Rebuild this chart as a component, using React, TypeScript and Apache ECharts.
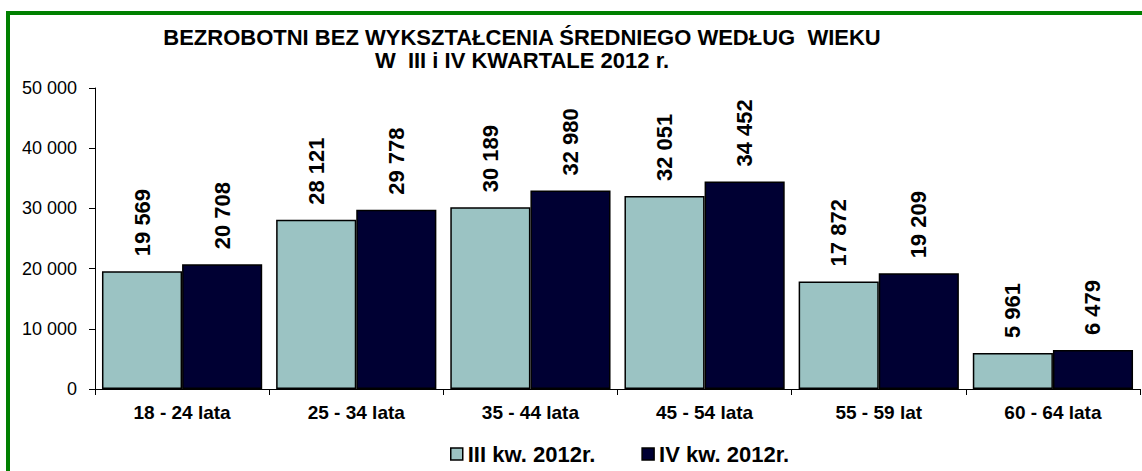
import React, { useEffect, useRef } from "react";
import * as echarts from "echarts";

const categories = ["18 - 24 lata", "25 - 34 lata", "35 - 44 lata", "45 - 54 lata", "55 - 59 lat", "60 - 64 lata"];
const seriesQ3 = [19569, 28121, 30189, 32051, 17872, 5961];
const seriesQ4 = [20708, 29778, 32980, 34452, 19209, 6479];
const seriesNames = ["III kw. 2012r.", "IV kw. 2012r."];
const titleLines = ["BEZROBOTNI BEZ WYKSZTAŁCENIA ŚREDNIEGO WEDŁUG  WIEKU", "W  III i IV KWARTALE 2012 r."];

const fmt = (v: number) => String(v).replace(/\B(?=(\d{3})+(?!\d))/g, " ");

export default function App() {
  const ref = useRef<HTMLDivElement>(null);
  useEffect(() => {
    if (!ref.current) return;
    const chart = echarts.init(ref.current, null, { renderer: "svg" });
    const font = "Arial, 'Liberation Sans', sans-serif";
    const label = {
      show: true,
      position: "top",
      rotate: 90,
      align: "left",
      verticalAlign: "middle",
      distance: 15,
      fontSize: 22,
      fontWeight: "bold",
      fontFamily: font,
      color: "#000",
      formatter: (p: any) => fmt(p.value),
    };
    const titleStyle = {
      fontSize: 22,
      fontWeight: "bold",
      fontFamily: font,
      fill: "#000",
      align: "center",
      verticalAlign: "middle",
    };
    chart.setOption({
      animation: false,
      backgroundColor: "#fff",
      graphic: [
        {
          type: "rect",
          z: -10,
          shape: { x: 8, y: 13, width: 1300, height: 600 },
          style: { fill: "none", stroke: "#008000", lineWidth: 4 },
          silent: true,
        },
        { type: "text", x: 522, y: 37, style: { ...titleStyle, text: titleLines[0] } },
        { type: "text", x: 522, y: 60, style: { ...titleStyle, text: titleLines[1] } },
      ],
      legend: {
        data: seriesNames,
        left: 445,
        top: 438,
        itemWidth: 12,
        itemHeight: 12,
        itemGap: 46,
        icon: "rect",
        itemStyle: { borderColor: "#000", borderWidth: 1.5 },
        textStyle: { fontSize: 22, fontWeight: "bold", fontFamily: font, color: "#000" },
      },
      grid: { left: 95, right: 2, top: 88, bottom: 82, containLabel: false },
      xAxis: {
        type: "category",
        data: categories,
        axisLine: { lineStyle: { color: "#000", width: 1 } },
        axisTick: { show: true, alignWithLabel: false, length: 6, lineStyle: { color: "#000" } },
        axisLabel: { fontSize: 19, fontWeight: "bold", fontFamily: font, color: "#000", margin: 14 },
      },
      yAxis: {
        type: "value",
        min: 0,
        max: 50000,
        interval: 10000,
        axisLine: { show: true, lineStyle: { color: "#000", width: 1 } },
        axisTick: { show: true, length: 6, lineStyle: { color: "#000" } },
        splitLine: { show: false },
        axisLabel: { fontSize: 18, fontFamily: font, color: "#000", margin: 18, formatter: (v: number) => fmt(v) },
      },
      series: [
        {
          name: seriesNames[0],
          type: "bar",
          data: seriesQ3,
          barGap: "0%",
          barCategoryGap: "8%",
          itemStyle: { color: "#9BC3C3", borderColor: "#000", borderWidth: 1.5 },
          label,
        },
        {
          name: seriesNames[1],
          type: "bar",
          data: seriesQ4,
          barGap: "0%",
          barCategoryGap: "8%",
          itemStyle: { color: "#000033", borderColor: "#000", borderWidth: 1.5 },
          label,
        },
      ],
    });
    return () => chart.dispose();
  }, []);
  return <div ref={ref} style={{ position: "fixed", left: 0, top: 0, width: 1142, height: 471 }} />;
}
